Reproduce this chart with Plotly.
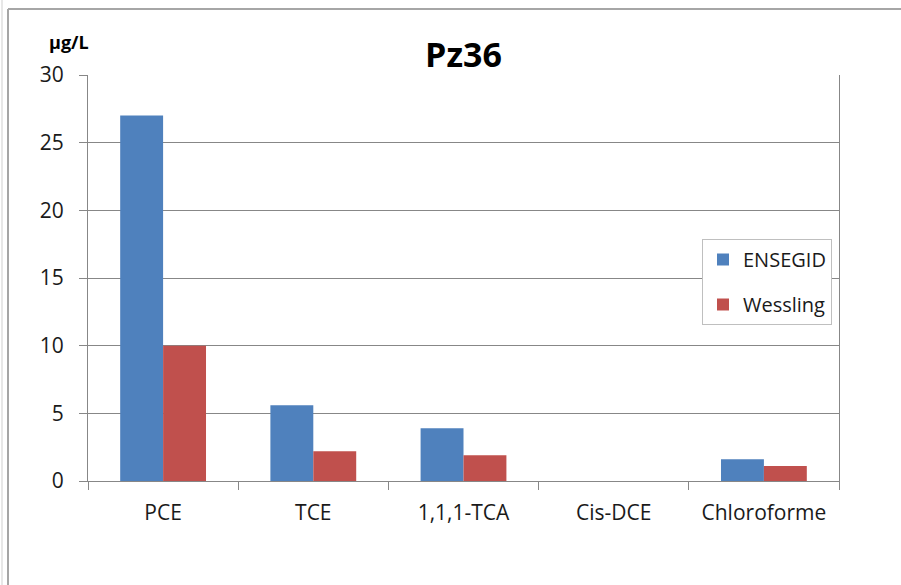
import plotly.graph_objects as go

# Concentrations measured at piezometer Pz36 (µg/L)
compounds = ["PCE", "TCE", "1,1,1-TCA", "Cis-DCE", "Chloroforme"]
ensegid = [27.0, 5.6, 3.9, 0.0, 1.6]
wessling = [10.0, 2.2, 1.9, 0.0, 1.1]
y_ticks = [0, 5, 10, 15, 20, 25, 30]

W, H = 901, 585
L, R, T, B = 88, 62, 75, 104          # plot-area margins in px
PW, PH = W - L - R, H - T - B

def px_x(p):
    return (p - L) / PW

def px_y(p):
    return (H - B - p) / PH

FONT = "Open Sans"
TXT = "#1a1a1a"
GRID = "#878787"
FRAME = "#a6a6a6"

fig = go.Figure()
fig.add_trace(go.Bar(x=compounds, y=ensegid, name="ENSEGID",
                     marker=dict(color="#4F81BD", line=dict(width=0)),
                     legendgroup="a"))
fig.add_trace(go.Bar(x=compounds, y=wessling, name="Wessling",
                     marker=dict(color="#C0504D", line=dict(width=0)),
                     legendgroup="b"))

fig.update_layout(
    width=W, height=H,
    margin=dict(l=L, r=R, t=T, b=B),
    paper_bgcolor="white", plot_bgcolor="white",
    barmode="group", bargap=0.4286, bargroupgap=0,
    font=dict(family=FONT, color=TXT, size=21),
    title=dict(text="<b>Pz36</b>", x=0.5, xref="paper", xanchor="center",
               y=1 - 55 / H, yref="container", yanchor="middle",
               font=dict(family=FONT, size=34, color="#000")),
    legend=dict(x=px_x(702), y=px_y(239), xanchor="left", yanchor="top",
                bgcolor="white", bordercolor="#bfbfbf", borderwidth=1,
                font=dict(size=20, family=FONT, color=TXT),
                tracegroupgap=16, itemwidth=30),
    showlegend=True,
    xaxis=dict(type="category", tickson="boundaries", ticks="outside",
               ticklen=8, tickcolor=GRID, tickwidth=1,
               showline=True, linecolor=GRID, linewidth=1,
               showgrid=False, ticklabelstandoff=13,
               tickfont=dict(size=21, family=FONT, color=TXT)),
    yaxis=dict(range=[0, 30], tickvals=y_ticks, ticks="outside",
               ticklen=8, tickcolor=GRID, tickwidth=1,
               showline=True, linecolor=GRID, linewidth=1, mirror=True,
               showgrid=True, gridcolor=GRID, gridwidth=1,
               zeroline=False, ticklabelstandoff=11,
               tickfont=dict(size=21, family=FONT, color=TXT)),
)

# unit label above the value axis
fig.add_annotation(text="<b>µg/L</b>", xref="paper", yref="paper",
                   x=px_x(69), y=px_y(42), xanchor="center", yanchor="middle",
                   showarrow=False, font=dict(family=FONT, size=18, color="#000"))

# chart frame lines
fig.add_shape(type="line", xref="paper", yref="paper",
              x0=px_x(8), x1=px_x(W + 5), y0=px_y(9), y1=px_y(9),
              line=dict(color=FRAME, width=2))
fig.add_shape(type="line", xref="paper", yref="paper",
              x0=px_x(8), x1=px_x(8), y0=px_y(9), y1=px_y(H + 5),
              line=dict(color=FRAME, width=2))
fig.add_shape(type="line", xref="paper", yref="paper",
              x0=px_x(2), x1=px_x(2), y0=px_y(-5), y1=px_y(H + 5),
              line=dict(color="#cfcfcf", width=1))

fig.write_html("out.html")
